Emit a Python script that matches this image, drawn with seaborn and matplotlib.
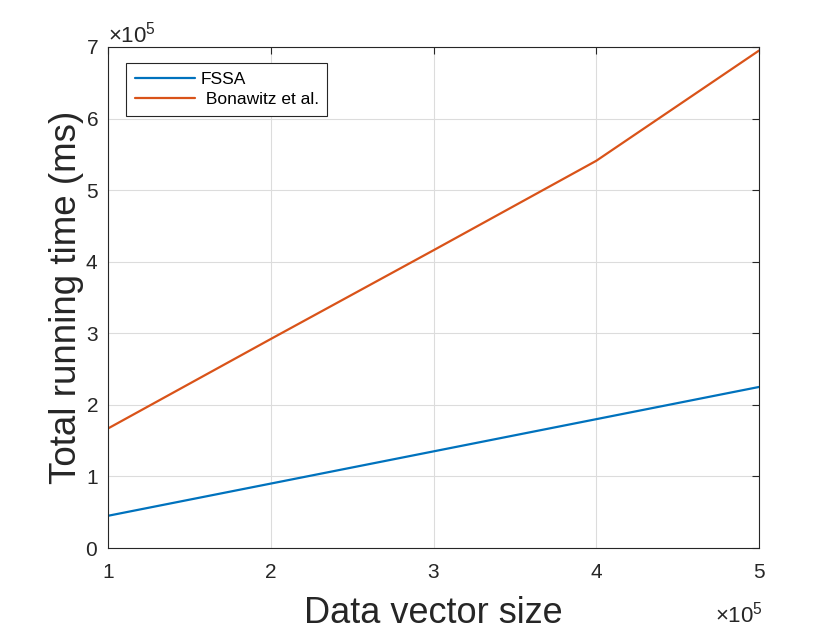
import matplotlib
matplotlib.use("Agg")
import matplotlib.pyplot as plt
import seaborn as sns
import pandas as pd
from matplotlib.ticker import ScalarFormatter

vector_size = [100000, 200000, 300000, 400000, 500000]
fssa_ms = [45000, 90000, 135000, 180000, 225000]
bonawitz_ms = [167000, 292000, 416000, 541000, 695000]
series_names = ["FSSA", " Bonawitz et al."]
x_ticks = [100000, 200000, 300000, 400000, 500000]
y_ticks = [0, 100000, 200000, 300000, 400000, 500000, 600000, 700000]

df = pd.DataFrame({
    "size": vector_size * 2,
    "time": fssa_ms + bonawitz_ms,
    "method": [series_names[0]] * 5 + [series_names[1]] * 5,
})

sns.set_theme(style="white")
plt.rcParams['font.family'] = ['Liberation Sans', 'DejaVu Sans']
plt.rcParams['mathtext.fontset'] = 'custom'
plt.rcParams['mathtext.rm'] = 'Liberation Sans'
plt.rcParams['mathtext.it'] = 'Liberation Sans'

text_c = "#262626"
fig = plt.figure(figsize=(8.4, 6.3), dpi=100)
ax = fig.add_axes([108/840, 82/630, 651/840, 501/630])

sns.lineplot(data=df, x="size", y="time", hue="method",
             palette=["#0072BD", "#D95319"], linewidth=1.6, ax=ax)

ax.set_xlim(100000, 500000)
ax.set_ylim(0, 700000)
ax.set_xticks(x_ticks)
ax.set_yticks(y_ticks)
for a in (ax.xaxis, ax.yaxis):
    f = ScalarFormatter(useMathText=True)
    f.set_powerlimits((0, 0))
    a.set_major_formatter(f)
ax.grid(True, color="#dcdcdc", linewidth=0.8)
ax.tick_params(direction="in", length=5, width=0.8, colors=text_c,
               labelsize=15, top=True, right=True)
ax.tick_params(axis="x", pad=11)
ax.tick_params(axis="y", pad=7)
for s in ax.spines.values():
    s.set_color(text_c)
    s.set_linewidth(0.8)
ax.xaxis.get_offset_text().set_visible(False)
ax.yaxis.get_offset_text().set_fontsize(16)
ax.yaxis.get_offset_text().set_color(text_c)
ax.text(1.006, -0.148, r"$\times10^{5}$", transform=ax.transAxes,
        ha="right", va="baseline", fontsize=16, color=text_c)

ax.set_xlabel("Data vector size", fontsize=26, color=text_c, labelpad=10)
ax.set_ylabel("Total running time (ms)", fontsize=26.5, color=text_c, labelpad=1)

leg = ax.legend(loc="upper left", bbox_to_anchor=(0.0276, 0.968), fontsize=12.5,
                frameon=True, fancybox=False, edgecolor=text_c, framealpha=1,
                handlelength=3.45, handletextpad=0.35, borderpad=0.5,
                labelspacing=0.3, borderaxespad=0)
leg.get_frame().set_linewidth(0.8)
for t in leg.get_texts():
    t.set_color("black")

fig.savefig("out.png", dpi=100)
